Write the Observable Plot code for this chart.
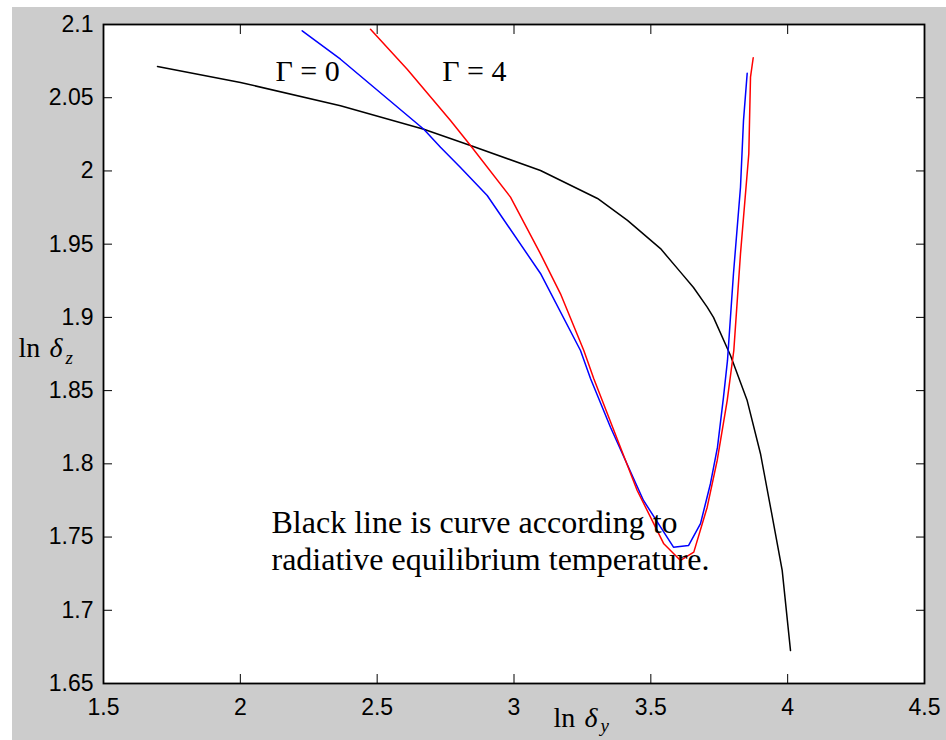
<!DOCTYPE html>
<html>
<head>
<meta charset="utf-8">
<script src="https://cdn.jsdelivr.net/npm/d3@7"></script>
<script src="https://cdn.jsdelivr.net/npm/@observablehq/plot@0.6"></script>
<style>
  html, body { margin: 0; padding: 0; background: #ffffff; }
  #chart { padding: 7px 0 0 12px; }
  #chart svg { display: block; }
</style>
</head>
<body>
<div id="chart"></div>
<script>
// ---- data ----
const blackX = [1.6973, 2.0006, 2.3660, 2.6704, 2.8410, 3.0968, 3.3051, 3.4147, 3.5353, 3.6084, 3.6559, 3.7060, 3.7290, 3.7911, 3.8521, 3.9007, 3.9409, 3.9800, 4.0104];
const blackY = [2.0713, 2.0604, 2.0445, 2.0285, 2.0174, 2.0003, 1.9812, 1.9662, 1.9470, 1.9309, 1.9204, 1.9070, 1.9000, 1.8740, 1.8432, 1.8069, 1.7668, 1.7272, 1.6725];

const blueX = [2.2261, 2.3660, 2.6704, 2.7314, 2.8045, 2.9021, 3.0968, 3.2430, 3.2795, 3.3526, 3.4732, 3.5828, 3.6376, 3.6815, 3.7180, 3.7436, 3.7655, 3.7801, 3.8020, 3.8276, 3.8386, 3.8521];
const blueY = [2.0957, 2.0763, 2.0285, 2.0162, 2.0024, 1.9832, 1.9300, 1.8774, 1.8583, 1.8250, 1.7750, 1.7431, 1.7442, 1.7592, 1.7866, 1.8114, 1.8455, 1.8706, 1.9300, 1.9889, 2.0344, 2.0667];

const redX = [2.4756, 2.6097, 2.7679, 2.8410, 2.9872, 3.0968, 3.1699, 3.2551, 3.2916, 3.4502, 3.5474, 3.6084, 3.6570, 3.7060, 3.7425, 3.7790, 3.8032, 3.8276, 3.8580, 3.8642, 3.8741];
const redY = [2.0968, 2.0695, 2.0344, 2.0174, 1.9821, 1.9434, 1.9161, 1.8774, 1.8581, 1.7818, 1.7454, 1.7340, 1.7397, 1.7704, 1.8023, 1.8432, 1.8774, 1.9434, 2.0117, 2.0640, 2.0773];

const xTicks = [1.5, 2, 2.5, 3, 3.5, 4, 4.5];
const xTickLabels = ["1.5", "2", "2.5", "3", "3.5", "4", "4.5"];
const yTicks = [1.65, 1.7, 1.75, 1.8, 1.85, 1.9, 1.95, 2, 2.05, 2.1];
const yTickLabels = ["1.65", "1.7", "1.75", "1.8", "1.85", "1.9", "1.95", "2", "2.05", "2.1"];

const gammaLabels = ["\u0393 = 0", "\u0393 = 4"];
const gammaX = [2.1285, 2.7376];
const gammaY = [2.0613, 2.0613];

const noteLines = ["Black line is curve according to", "radiative equilibrium temperature."];
const noteX = [2.1139, 2.1139];
const noteY = [1.7531, 1.7272];

// axis label pieces: "ln", italic delta, italic subscript
const yLabelParts = ["ln", "\u03B4", "z"];
const yLabelX = [1.1894, 1.3027, 1.3611];
const yLabelY = [1.8728, 1.8728, 1.8685];
const xLabelParts = ["ln", "\u03B4", "y"];
const xLabelX = [3.1443, 3.2576, 3.3160];
const xLabelY = [1.6201, 1.6201, 1.6172];

// ---- tables built from the arrays ----
const toRows = (xs, ys) => xs.map((x, i) => ({x, y: ys[i]}));
const black = toRows(blackX, blackY);
const blue = toRows(blueX, blueY);
const red = toRows(redX, redY);
const gammaRows = gammaLabels.map((t, i) => ({t, x: gammaX[i], y: gammaY[i]}));
const noteRows = noteLines.map((t, i) => ({t, x: noteX[i], y: noteY[i]}));
const partRows = (parts, xs, ys) => parts.map((t, i) => ({t, x: xs[i], y: ys[i], sub: i === 2, ital: i > 0}));
const labelParts = partRows(yLabelParts, yLabelX, yLabelY).concat(partRows(xLabelParts, xLabelX, xLabelY));

const serif = "'Liberation Serif', 'Times New Roman', serif";
const sans = "'Liberation Sans', Arial, sans-serif";

const chart = Plot.plot({
  width: 934,
  height: 733,
  marginLeft: 91,
  marginRight: 22,
  marginTop: 17,
  marginBottom: 57,
  style: {background: "#cccccc", fontFamily: sans, fontSize: "23px", color: "#000", overflow: "visible"},
  x: {domain: [1.5, 4.5]},
  y: {domain: [1.65, 2.1]},
  marks: [
    Plot.frame({fill: "white", stroke: null}),
    Plot.line(black, {x: "x", y: "y", stroke: "#000000", strokeWidth: 1.5}),
    Plot.line(blue, {x: "x", y: "y", stroke: "#0000ff", strokeWidth: 1.5}),
    Plot.line(red, {x: "x", y: "y", stroke: "#ff0000", strokeWidth: 1.5}),
    Plot.frame({stroke: "#000", strokeWidth: 1.8}),
    Plot.axisX(xTicks, {anchor: "bottom", tickSize: -9, tickPadding: 24, label: null,
      tickFormat: d => xTickLabels[xTicks.indexOf(d)], fontSize: 23, fill: "#000", stroke: "#000"}),
    Plot.axisX(xTicks, {anchor: "top", tickSize: -9, label: null, tickFormat: () => "", stroke: "#000"}),
    Plot.axisY(yTicks, {anchor: "left", tickSize: -9, tickPadding: 19, label: null,
      tickFormat: d => yTickLabels[yTicks.indexOf(d)], fontSize: 23, fill: "#000", stroke: "#000"}),
    Plot.axisY(yTicks, {anchor: "right", tickSize: -9, label: null, tickFormat: () => "", stroke: "#000"}),
    Plot.text(gammaRows, {x: "x", y: "y", text: "t", textAnchor: "start", lineAnchor: "bottom",
      fontFamily: serif, fontSize: 30, fill: "#000"}),
    Plot.text(noteRows, {x: "x", y: "y", text: "t", textAnchor: "start", lineAnchor: "bottom",
      fontFamily: serif, fontSize: 32, fill: "#000"}),
    Plot.text(labelParts.filter(d => !d.ital), {x: "x", y: "y", text: "t", textAnchor: "start", lineAnchor: "bottom",
      fontFamily: serif, fontSize: 28, fill: "#000"}),
    Plot.text(labelParts.filter(d => d.ital && !d.sub), {x: "x", y: "y", text: "t", textAnchor: "start", lineAnchor: "bottom",
      fontFamily: serif, fontSize: 28, fontStyle: "italic", fill: "#000"}),
    Plot.text(labelParts.filter(d => d.sub), {x: "x", y: "y", text: "t", textAnchor: "start", lineAnchor: "bottom",
      fontFamily: serif, fontSize: 19, fontStyle: "italic", fill: "#000"})
  ]
});
document.getElementById("chart").appendChild(chart);
</script>
</body>
</html>
